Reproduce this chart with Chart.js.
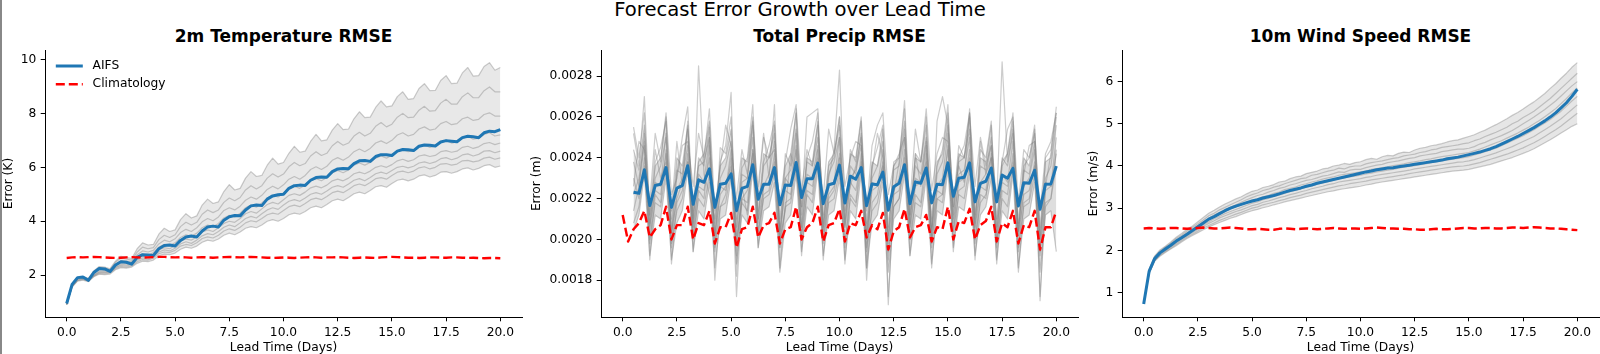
<!DOCTYPE html>
<html>
<head>
<meta charset="utf-8">
<script src="https://cdn.jsdelivr.net/npm/chart.js@4.4.0/dist/chart.umd.min.js"></script>
<style>
  html, body { margin: 0; padding: 0; background: #fff; }
  #frame { position: relative; width: 1600px; height: 354px; overflow: hidden; background: #fff; }
  #edge { position: absolute; left: 0; top: 0; width: 2px; height: 354px; background: #888; }
  .suptitle { position: absolute; left: 0; top: 0; width: 1600px; text-align: center;
              font: 19.6px/19.6px "DejaVu Sans", sans-serif; color: #000; }
  .ptitle { position: absolute; top: 28px; width: 477px; text-align: center;
            font: bold 17px/17px "DejaVu Sans", sans-serif; color: #000; }
  canvas { position: absolute; top: 0; }
</style>
</head>
<body>
<div id="frame">
  <div id="edge"></div>
  <div class="suptitle">Forecast Error Growth over Lead Time</div>
  <div class="ptitle" style="left:45px">2m Temperature RMSE</div>
  <div class="ptitle" style="left:601px">Total Precip RMSE</div>
  <div class="ptitle" style="left:1122px">10m Wind Speed RMSE</div>
  <canvas id="t2mChart" width="532" height="360" style="left:0px"></canvas>
  <canvas id="precipChart" width="563" height="360" style="left:525px"></canvas>
  <canvas id="windChart" width="517" height="360" style="left:1083px"></canvas>
</div>
<script>
// --- data: lead time axis (6-hourly steps, days) ---
const LEAD_DAYS = [0,0.25,0.5,0.75,1,1.25,1.5,1.75,2,2.25,2.5,2.75,3,3.25,3.5,3.75,4,4.25,4.5,4.75,
  5,5.25,5.5,5.75,6,6.25,6.5,6.75,7,7.25,7.5,7.75,8,8.25,8.5,8.75,9,9.25,9.5,9.75,
  10,10.25,10.5,10.75,11,11.25,11.5,11.75,12,12.25,12.5,12.75,13,13.25,13.5,13.75,14,14.25,14.5,14.75,
  15,15.25,15.5,15.75,16,16.25,16.5,16.75,17,17.25,17.5,17.75,18,18.25,18.5,18.75,19,19.25,19.5,19.75,20];

const X_TICKS = [0, 2.5, 5, 7.5, 10, 12.5, 15, 17.5, 20];
const T2M_TICKS = [2, 4, 6, 8, 10];
const PRECIP_TICKS = [0.0018, 0.0020, 0.0022, 0.0024, 0.0026, 0.0028];
const WIND_TICKS = [1, 2, 3, 4, 5, 6];

// --- 2m temperature (K) ---
const T2M_AIFS = [
  0.95,1.66,1.91,1.93, 1.81,2.10,2.25,2.23, 2.14,2.38,2.50,2.48, 2.41,2.66,2.76,2.75,
  2.73,2.98,3.10,3.12, 3.08,3.29,3.42,3.45, 3.42,3.64,3.79,3.82, 3.79,4.04,4.17,4.21,
  4.20,4.42,4.57,4.60, 4.58,4.82,4.94,4.98, 5.00,5.22,5.32,5.34, 5.33,5.52,5.62,5.64,
  5.63,5.84,5.94,5.96, 5.95,6.14,6.24,6.25, 6.22,6.40,6.47,6.47, 6.44,6.60,6.66,6.65,
  6.62,6.78,6.83,6.82, 6.79,6.94,6.99,6.97, 6.95,7.10,7.15,7.13, 7.10,7.28,7.34,7.32, 7.40];
const T2M_CLIM = [
  2.64,2.66,2.67,2.66, 2.67,2.68,2.67,2.66, 2.65,2.64,2.65,2.66, 2.67,2.66,2.65,2.66,
  2.67,2.68,2.68,2.67, 2.66,2.67,2.66,2.65, 2.66,2.67,2.66,2.65, 2.66,2.67,2.68,2.67,
  2.66,2.67,2.68,2.67, 2.66,2.65,2.64,2.65, 2.66,2.65,2.64,2.65, 2.66,2.67,2.66,2.65,
  2.66,2.66,2.67,2.66, 2.65,2.64,2.65,2.66, 2.65,2.64,2.66,2.67, 2.68,2.67,2.66,2.65,
  2.65,2.64,2.65,2.66, 2.66,2.65,2.65,2.66, 2.66,2.65,2.64,2.65, 2.64,2.63,2.64,2.64, 2.63];
// ensemble members, ordered from the highest to the lowest
const T2M_MEMBERS = [
  [0.92,1.62,1.90,1.95, 1.88,2.16,2.32,2.30, 2.24,2.52,2.70,2.66, 2.62,2.98,3.20,3.12,
   3.14,3.52,3.74,3.62, 3.68,4.06,4.28,4.12, 4.20,4.60,4.82,4.66, 4.72,5.10,5.36,5.16,
   5.22,5.60,5.84,5.66, 5.70,6.08,6.34,6.12, 6.18,6.52,6.78,6.56, 6.60,6.96,7.22,6.98,
   7.02,7.38,7.62,7.40, 7.42,7.80,8.06,7.84, 7.86,8.22,8.46,8.24, 8.28,8.62,8.80,8.52,
   8.55,8.92,9.10,8.84, 8.85,9.22,9.40,9.10, 9.12,9.50,9.70,9.38, 9.40,9.74,9.88,9.60, 9.70],
  [0.92,1.64,1.90,1.94, 1.86,2.12,2.28,2.26, 2.20,2.48,2.64,2.60, 2.56,2.86,3.04,2.98,
   3.02,3.32,3.48,3.40, 3.50,3.80,3.96,3.86, 3.96,4.26,4.42,4.32, 4.42,4.70,4.86,4.76,
   4.88,5.16,5.32,5.20, 5.32,5.60,5.76,5.64, 5.75,6.02,6.18,6.06, 6.14,6.42,6.58,6.44,
   6.52,6.80,6.96,6.82, 6.90,7.16,7.30,7.16, 7.26,7.52,7.66,7.50, 7.60,7.86,8.00,7.84,
   7.86,8.12,8.26,8.08, 8.10,8.38,8.52,8.34, 8.34,8.62,8.76,8.58, 8.58,8.84,8.98,8.80, 8.80],
  [0.92,1.62,1.88,1.92, 1.84,2.08,2.22,2.20, 2.16,2.40,2.54,2.52, 2.50,2.76,2.90,2.86,
   2.92,3.16,3.30,3.24, 3.35,3.58,3.70,3.62, 3.76,3.98,4.10,4.02, 4.16,4.40,4.50,4.42,
   4.56,4.78,4.90,4.82, 4.96,5.18,5.30,5.20, 5.35,5.56,5.66,5.56, 5.70,5.92,6.02,5.92,
   6.04,6.26,6.36,6.26, 6.38,6.58,6.68,6.58, 6.70,6.90,6.98,6.88, 7.00,7.20,7.28,7.16,
   7.22,7.42,7.50,7.38, 7.42,7.62,7.70,7.58, 7.62,7.80,7.86,7.74, 7.78,7.96,8.02,7.90, 7.90],
  [0.92,1.60,1.86,1.90, 1.82,2.02,2.16,2.16, 2.14,2.34,2.46,2.44, 2.46,2.66,2.78,2.74,
   2.84,3.04,3.14,3.10, 3.20,3.40,3.50,3.44, 3.56,3.76,3.86,3.80, 3.92,4.12,4.22,4.16,
   4.30,4.50,4.60,4.52, 4.68,4.86,4.96,4.90, 5.05,5.22,5.30,5.22, 5.34,5.50,5.58,5.50,
   5.62,5.80,5.88,5.80, 5.90,6.08,6.16,6.08, 6.18,6.34,6.42,6.34, 6.45,6.60,6.66,6.58,
   6.62,6.78,6.84,6.74, 6.78,6.94,7.00,6.90, 6.94,7.08,7.14,7.04, 7.08,7.22,7.28,7.16, 7.20],
  [0.92,1.60,1.84,1.88, 1.80,2.00,2.12,2.12, 2.12,2.30,2.40,2.38, 2.42,2.60,2.70,2.66,
   2.76,2.94,3.02,2.98, 3.10,3.26,3.34,3.30, 3.42,3.60,3.68,3.62, 3.76,3.92,4.00,3.96,
   4.10,4.28,4.36,4.30, 4.46,4.62,4.70,4.64, 4.80,4.96,5.02,4.96, 5.08,5.24,5.30,5.24,
   5.34,5.50,5.56,5.50, 5.60,5.76,5.82,5.76, 5.86,6.00,6.06,6.00, 6.10,6.24,6.30,6.22,
   6.28,6.42,6.46,6.40, 6.44,6.58,6.62,6.56, 6.60,6.74,6.78,6.70, 6.76,6.88,6.92,6.84, 6.90],
  [0.92,1.58,1.82,1.86, 1.79,1.98,2.10,2.10, 2.10,2.28,2.36,2.34, 2.38,2.56,2.64,2.60,
   2.70,2.86,2.94,2.90, 3.00,3.16,3.24,3.18, 3.30,3.46,3.54,3.50, 3.62,3.78,3.86,3.80,
   3.94,4.10,4.18,4.12, 4.28,4.42,4.50,4.44, 4.60,4.74,4.80,4.74, 4.86,5.00,5.06,5.00,
   5.12,5.26,5.32,5.26, 5.38,5.52,5.58,5.50, 5.62,5.76,5.82,5.76, 5.88,6.00,6.04,5.98,
   6.04,6.16,6.20,6.14, 6.20,6.32,6.36,6.28, 6.34,6.46,6.50,6.42, 6.48,6.60,6.62,6.54, 6.60],
  [0.92,1.58,1.80,1.84, 1.78,1.96,2.06,2.06, 2.08,2.24,2.32,2.30, 2.34,2.50,2.58,2.56,
   2.64,2.80,2.86,2.84, 2.92,3.08,3.14,3.10, 3.20,3.36,3.42,3.38, 3.48,3.64,3.72,3.66,
   3.78,3.94,4.02,3.98, 4.10,4.24,4.30,4.26, 4.40,4.54,4.60,4.54, 4.66,4.80,4.86,4.80,
   4.92,5.06,5.12,5.06, 5.18,5.32,5.38,5.32, 5.44,5.58,5.62,5.56, 5.70,5.82,5.86,5.80,
   5.86,5.98,6.02,5.94, 6.00,6.12,6.14,6.08, 6.12,6.24,6.26,6.20, 6.24,6.34,6.38,6.30, 6.35],
  [0.92,1.56,1.78,1.82, 1.76,1.94,2.04,2.02, 2.04,2.20,2.28,2.26, 2.30,2.44,2.52,2.50,
   2.56,2.72,2.78,2.76, 2.82,2.96,3.04,3.00, 3.08,3.22,3.30,3.26, 3.34,3.48,3.56,3.50,
   3.60,3.74,3.80,3.76, 3.86,4.00,4.06,4.00, 4.10,4.24,4.30,4.26, 4.36,4.50,4.56,4.50,
   4.62,4.76,4.82,4.76, 4.88,5.02,5.08,5.02, 5.14,5.28,5.32,5.26, 5.40,5.52,5.56,5.50,
   5.56,5.68,5.72,5.64, 5.70,5.82,5.84,5.78, 5.84,5.94,5.98,5.90, 5.96,6.06,6.10,6.00, 6.05]
];

// --- total precipitation (m), forecast lines start at day 0.5 ---
const PRECIP_AIFS = [
  null,null,0.002231,0.002226, 0.002341,0.002166,0.002264,0.002270, 0.002352,0.002157,0.002251,0.002264,
  0.002361,0.002172,0.002292,0.002280, 0.002346,0.002157,0.002270,0.002275, 0.002321,0.002141,0.002250,0.002260,
  0.002366,0.002197,0.002270,0.002270, 0.002352,0.002170,0.002267,0.002264, 0.002377,0.002205,0.002297,0.002297,
  0.002374,0.002175,0.002268,0.002275, 0.002364,0.002178,0.002310,0.002295, 0.002352,0.002165,0.002272,0.002268,
  0.002330,0.002143,0.002258,0.002275, 0.002366,0.002175,0.002282,0.002275, 0.002350,0.002179,0.002270,0.002268,
  0.002375,0.002211,0.002300,0.002305, 0.002375,0.002184,0.002275,0.002285, 0.002350,0.002184,0.002315,0.002300,
  0.002348,0.002164,0.002278,0.002275, 0.002339,0.002148,0.002270,0.002272, 0.002359];
const PRECIP_CLIM = [
  0.00212,0.00199,0.00205,0.00208, 0.00214,0.00201,0.00205,0.00207, 0.00216,0.00200,0.00207,0.00207,
  0.00216,0.00200,0.00208,0.00207, 0.00214,0.00198,0.00206,0.00206, 0.00213,0.00196,0.00205,0.00206,
  0.00216,0.00201,0.00207,0.00208, 0.00213,0.00198,0.00205,0.00206, 0.00216,0.00200,0.00206,0.00208,
  0.00216,0.00199,0.00207,0.00208, 0.00215,0.00199,0.00208,0.00207, 0.00214,0.00201,0.00207,0.00205,
  0.00213,0.00195,0.00204,0.00206, 0.00215,0.00201,0.00206,0.00207, 0.00212,0.00199,0.00206,0.00205,
  0.00216,0.00200,0.00209,0.00208, 0.00215,0.00200,0.00207,0.00209, 0.00216,0.00199,0.00208,0.00206,
  0.00214,0.00198,0.00207,0.00206, 0.00214,0.00195,0.00206,0.00206, 0.00214];
// first member is the upper edge of the core band, second the lower edge
const PRECIP_MEMBERS = [
  [null,null,0.00244,0.00234, 0.00256,0.00212,0.00236,0.00240, 0.00260,0.00210,0.00240,0.00236,
   0.00256,0.00214,0.00238,0.00242, 0.00258,0.00208,0.00236,0.00240, 0.00254,0.00210,0.00240,0.00238,
   0.00260,0.00214,0.00242,0.00240, 0.00256,0.00210,0.00236,0.00242, 0.00262,0.00216,0.00240,0.00238,
   0.00258,0.00212,0.00238,0.00242, 0.00256,0.00210,0.00242,0.00240, 0.00260,0.00208,0.00238,0.00236,
   0.00254,0.00206,0.00236,0.00240, 0.00258,0.00212,0.00240,0.00238, 0.00256,0.00210,0.00238,0.00242,
   0.00262,0.00216,0.00242,0.00240, 0.00260,0.00212,0.00240,0.00238, 0.00256,0.00210,0.00236,0.00242,
   0.00258,0.00208,0.00240,0.00236, 0.00254,0.00206,0.00238,0.00240, 0.00260],
  [null,null,0.00204,0.00212, 0.00232,0.00192,0.00212,0.00210, 0.00230,0.00190,0.00208,0.00214,
   0.00234,0.00194,0.00214,0.00210, 0.00228,0.00186,0.00210,0.00212, 0.00230,0.00188,0.00212,0.00208,
   0.00234,0.00196,0.00214,0.00216, 0.00228,0.00184,0.00208,0.00212, 0.00232,0.00194,0.00216,0.00212,
   0.00234,0.00192,0.00212,0.00214, 0.00230,0.00190,0.00214,0.00210, 0.00232,0.00186,0.00208,0.00212,
   0.00228,0.00184,0.00210,0.00214, 0.00232,0.00192,0.00212,0.00210, 0.00230,0.00188,0.00214,0.00212,
   0.00234,0.00196,0.00216,0.00214, 0.00232,0.00192,0.00212,0.00216, 0.00230,0.00190,0.00214,0.00210,
   0.00232,0.00186,0.00210,0.00212, 0.00228,0.00184,0.00212,0.00214, 0.00194],
  [null,null,0.00255,0.00240, 0.00262,0.00205,0.00238,0.00245, 0.00258,0.00200,0.00232,0.00250,
   0.00265,0.00208,0.00240,0.00236, 0.00255,0.00198,0.00245,0.00242, 0.00260,0.00202,0.00235,0.00240,
   0.00266,0.00210,0.00238,0.00246, 0.00258,0.00200,0.00242,0.00236, 0.00264,0.00206,0.00240,0.00248,
   0.00262,0.00204,0.00236,0.00240, 0.00260,0.00207,0.00244,0.00238, 0.00258,0.00200,0.00236,0.00245,
   0.00256,0.00198,0.00238,0.00240, 0.00264,0.00206,0.00242,0.00238, 0.00260,0.00202,0.00236,0.00244,
   0.00266,0.00210,0.00240,0.00246, 0.00262,0.00204,0.00244,0.00240, 0.00258,0.00200,0.00238,0.00242,
   0.00262,0.00202,0.00236,0.00240, 0.00256,0.00198,0.00240,0.00244, 0.00262],
  [null,null,0.00238,0.00226, 0.00252,0.00208,0.00230,0.00236, 0.00250,0.00204,0.00234,0.00232,
   0.00254,0.00210,0.00236,0.00238, 0.00250,0.00202,0.00230,0.00236, 0.00248,0.00206,0.00232,0.00230,
   0.00256,0.00210,0.00236,0.00240, 0.00252,0.00204,0.00230,0.00234, 0.00254,0.00212,0.00238,0.00236,
   0.00256,0.00208,0.00232,0.00238, 0.00250,0.00206,0.00236,0.00232, 0.00252,0.00204,0.00230,0.00236,
   0.00248,0.00202,0.00234,0.00236, 0.00254,0.00208,0.00236,0.00232, 0.00250,0.00206,0.00232,0.00238,
   0.00256,0.00212,0.00238,0.00240, 0.00254,0.00208,0.00236,0.00234, 0.00250,0.00206,0.00240,0.00236,
   0.00252,0.00204,0.00234,0.00232, 0.00248,0.00202,0.00230,0.00236, 0.00256],
  [null,null,0.00222,0.00230, 0.00248,0.00198,0.00228,0.00226, 0.00252,0.00196,0.00224,0.00230,
   0.00246,0.00200,0.00232,0.00228, 0.00250,0.00194,0.00226,0.00224, 0.00244,0.00192,0.00228,0.00230,
   0.00250,0.00202,0.00226,0.00232, 0.00248,0.00196,0.00230,0.00226, 0.00252,0.00200,0.00232,0.00230,
   0.00246,0.00198,0.00226,0.00228, 0.00250,0.00196,0.00230,0.00234, 0.00246,0.00194,0.00228,0.00226,
   0.00244,0.00190,0.00224,0.00230, 0.00250,0.00200,0.00230,0.00228, 0.00248,0.00196,0.00226,0.00230,
   0.00252,0.00202,0.00232,0.00234, 0.00250,0.00198,0.00228,0.00232, 0.00246,0.00196,0.00232,0.00228,
   0.00248,0.00194,0.00226,0.00230, 0.00244,0.00192,0.00228,0.00226, 0.00250],
  [null,null,0.00230,0.00220, 0.00240,0.00206,0.00224,0.00222, 0.00242,0.00204,0.00220,0.00228,
   0.00238,0.00206,0.00226,0.00224, 0.00240,0.00202,0.00222,0.00226, 0.00236,0.00200,0.00220,0.00224,
   0.00242,0.00208,0.00226,0.00228, 0.00238,0.00204,0.00224,0.00222, 0.00244,0.00206,0.00228,0.00226,
   0.00240,0.00204,0.00222,0.00226, 0.00242,0.00206,0.00228,0.00224, 0.00238,0.00202,0.00224,0.00226,
   0.00236,0.00200,0.00222,0.00224, 0.00240,0.00206,0.00226,0.00228, 0.00238,0.00204,0.00224,0.00222,
   0.00244,0.00208,0.00228,0.00230, 0.00240,0.00206,0.00226,0.00224, 0.00242,0.00204,0.00228,0.00226,
   0.00238,0.00202,0.00222,0.00224, 0.00236,0.00200,0.00224,0.00226, 0.00242],
  [null,null,0.00214,0.00226, 0.00246,0.00190,0.00222,0.00218, 0.00244,0.00188,0.00218,0.00224,
   0.00242,0.00194,0.00224,0.00220, 0.00246,0.00180,0.00216,0.00222, 0.00240,0.00172,0.00220,0.00218,
   0.00244,0.00196,0.00222,0.00224, 0.00242,0.00186,0.00218,0.00220, 0.00246,0.00192,0.00224,0.00222,
   0.00244,0.00190,0.00220,0.00224, 0.00240,0.00188,0.00222,0.00218, 0.00242,0.00180,0.00218,0.00222,
   0.00238,0.00172,0.00216,0.00220, 0.00244,0.00192,0.00222,0.00218, 0.00242,0.00186,0.00220,0.00222,
   0.00246,0.00194,0.00224,0.00226, 0.00244,0.00190,0.00222,0.00220, 0.00240,0.00188,0.00224,0.00222,
   0.00242,0.00184,0.00218,0.00220, 0.00238,0.00172,0.00216,0.00220, 0.00244],
  [null,null,0.00208,0.00216, 0.00236,0.00200,0.00218,0.00216, 0.00234,0.00198,0.00214,0.00220,
   0.00238,0.00202,0.00220,0.00216, 0.00232,0.00196,0.00216,0.00218, 0.00234,0.00198,0.00218,0.00214,
   0.00238,0.00204,0.00220,0.00222, 0.00232,0.00196,0.00216,0.00218, 0.00236,0.00202,0.00222,0.00218,
   0.00238,0.00200,0.00218,0.00220, 0.00234,0.00198,0.00220,0.00216, 0.00236,0.00196,0.00214,0.00218,
   0.00232,0.00194,0.00216,0.00220, 0.00236,0.00200,0.00218,0.00216, 0.00234,0.00198,0.00220,0.00218,
   0.00238,0.00204,0.00222,0.00220, 0.00236,0.00200,0.00218,0.00222, 0.00234,0.00198,0.00220,0.00216,
   0.00236,0.00196,0.00216,0.00218, 0.00232,0.00194,0.00218,0.00220, 0.00236],
  [null,null,0.00252,0.00236, 0.00270,0.00212,0.00244,0.00230, 0.00238,0.00214,0.00248,0.00226,
   0.00258,0.00206,0.00285,0.00232, 0.00222,0.00210,0.00238,0.00246, 0.00272,0.00182,0.00226,0.00212,
   0.00244,0.00226,0.00252,0.00230, 0.00266,0.00200,0.00214,0.00242, 0.00232,0.00216,0.00260,0.00262,
   0.00264,0.00206,0.00230,0.00244, 0.00283,0.00214,0.00226,0.00236, 0.00250,0.00186,0.00234,0.00252,
   0.00240,0.00168,0.00222,0.00238, 0.00268,0.00212,0.00242,0.00226, 0.00246,0.00200,0.00258,0.00270,
   0.00256,0.00220,0.00236,0.00228, 0.00264,0.00210,0.00248,0.00232, 0.00240,0.00218,0.00287,0.00238,
   0.00254,0.00204,0.00232,0.00246, 0.00248,0.00170,0.00226,0.00242, 0.00265],
  [null,null,0.00226,0.00248, 0.00244,0.00218,0.00252,0.00238, 0.00262,0.00222,0.00230,0.00246,
   0.00248,0.00226,0.00252,0.00240, 0.00264,0.00214,0.00236,0.00256, 0.00246,0.00220,0.00244,0.00232,
   0.00258,0.00222,0.00250,0.00240, 0.00244,0.00218,0.00238,0.00254, 0.00266,0.00224,0.00244,0.00236,
   0.00250,0.00220,0.00254,0.00242, 0.00260,0.00226,0.00240,0.00248, 0.00246,0.00214,0.00246,0.00256,
   0.00262,0.00222,0.00236,0.00242, 0.00250,0.00218,0.00254,0.00238, 0.00264,0.00224,0.00242,0.00250,
   0.00248,0.00216,0.00246,0.00240, 0.00262,0.00226,0.00250,0.00236, 0.00246,0.00220,0.00238,0.00254,
   0.00260,0.00218,0.00244,0.00240, 0.00252,0.00214,0.00242,0.00248, 0.00262]
];

// --- 10m wind speed (m/s) ---
const WIND_AIFS = [
  0.73,1.50,1.80,1.94, 2.03,2.12,2.22,2.30, 2.38,2.47,2.56,2.65, 2.74,2.80,2.87,2.94,
  3.00,3.05,3.09,3.13, 3.17,3.20,3.24,3.27, 3.30,3.34,3.38,3.42, 3.45,3.48,3.52,3.55,
  3.59,3.62,3.65,3.68, 3.71,3.74,3.77,3.80, 3.83,3.86,3.88,3.91, 3.93,3.95,3.96,3.98,
  4.00,4.02,4.04,4.06, 4.08,4.10,4.12,4.14, 4.17,4.19,4.21,4.24, 4.27,4.30,4.33,4.37,
  4.41,4.46,4.52,4.58, 4.64,4.70,4.77,4.84, 4.91,4.99,5.07,5.16, 5.26,5.38,5.50,5.65, 5.82];
const WIND_CLIM = [
  2.52,2.53,2.52,2.51, 2.52,2.53,2.53,2.52, 2.51,2.52,2.53,2.54, 2.53,2.52,2.52,2.53,
  2.54,2.53,2.52,2.50, 2.50,2.51,2.50,2.49, 2.49,2.51,2.52,2.51, 2.50,2.51,2.52,2.51,
  2.50,2.51,2.52,2.53, 2.52,2.51,2.52,2.52, 2.51,2.52,2.53,2.54, 2.53,2.52,2.52,2.51,
  2.51,2.50,2.50,2.49, 2.49,2.50,2.51,2.50, 2.50,2.51,2.52,2.53, 2.53,2.52,2.52,2.53,
  2.53,2.52,2.52,2.53, 2.54,2.54,2.53,2.54, 2.55,2.54,2.53,2.52, 2.52,2.51,2.50,2.49, 2.48];
// first member is the upper edge of the spread, second the lower edge
const WIND_MEMBERS = [
  [0.73,1.55,1.86,2.01, 2.10,2.20,2.31,2.40, 2.50,2.58,2.68,2.78, 2.88,2.95,3.03,3.10,
   3.16,3.22,3.27,3.34, 3.40,3.43,3.49,3.52, 3.56,3.62,3.64,3.70, 3.74,3.76,3.82,3.85,
   3.88,3.93,3.95,4.00, 4.02,4.06,4.04,4.08, 4.10,4.15,4.18,4.16, 4.22,4.25,4.24,4.30,
   4.33,4.32,4.38,4.42, 4.44,4.48,4.50,4.53, 4.57,4.60,4.62,4.66, 4.70,4.74,4.80,4.85,
   4.92,4.98,5.05,5.12, 5.20,5.27,5.35,5.44, 5.52,5.62,5.72,5.84, 5.95,6.08,6.20,6.34, 6.45],
  [0.73,1.45,1.74,1.86, 1.95,2.03,2.11,2.20, 2.28,2.35,2.42,2.49, 2.55,2.61,2.66,2.71,
   2.76,2.80,2.85,2.90, 2.94,2.97,3.01,3.04, 3.08,3.11,3.15,3.18, 3.21,3.24,3.27,3.30,
   3.33,3.36,3.39,3.41, 3.44,3.46,3.48,3.50, 3.52,3.55,3.57,3.60, 3.62,3.64,3.66,3.68,
   3.70,3.72,3.74,3.76, 3.78,3.80,3.82,3.84, 3.86,3.88,3.89,3.90, 3.92,3.95,3.98,4.01,
   4.04,4.08,4.12,4.16, 4.20,4.25,4.30,4.35, 4.41,4.48,4.55,4.62, 4.70,4.78,4.86,4.94, 5.00],
  [0.73,1.53,1.84,1.98, 2.08,2.17,2.28,2.36, 2.46,2.55,2.63,2.72, 2.82,2.88,2.96,3.02,
   3.08,3.14,3.20,3.27, 3.32,3.36,3.42,3.45, 3.50,3.53,3.58,3.62, 3.66,3.70,3.72,3.78,
   3.80,3.84,3.88,3.90, 3.95,3.93,3.98,4.00, 4.00,4.05,4.08,4.10, 4.12,4.15,4.18,4.20,
   4.24,4.26,4.28,4.32, 4.34,4.38,4.40,4.44, 4.46,4.48,4.50,4.53, 4.55,4.60,4.64,4.70,
   4.75,4.80,4.86,4.92, 5.00,5.06,5.15,5.22, 5.30,5.40,5.50,5.60, 5.72,5.84,5.96,6.08, 6.20],
  [0.73,1.52,1.82,1.96, 2.06,2.14,2.24,2.33, 2.42,2.51,2.59,2.68, 2.76,2.84,2.90,2.97,
   3.02,3.08,3.14,3.20, 3.25,3.30,3.33,3.38, 3.42,3.47,3.50,3.55, 3.58,3.62,3.66,3.68,
   3.72,3.76,3.78,3.82, 3.86,3.85,3.90,3.92, 3.92,3.96,3.99,4.02, 4.04,4.08,4.10,4.12,
   4.15,4.18,4.20,4.24, 4.26,4.28,4.30,4.34, 4.36,4.38,4.40,4.40, 4.42,4.46,4.52,4.56,
   4.62,4.67,4.72,4.78, 4.84,4.92,5.00,5.08, 5.16,5.25,5.34,5.44, 5.54,5.66,5.78,5.90, 6.00],
  [0.73,1.50,1.80,1.94, 2.03,2.12,2.22,2.31, 2.40,2.48,2.56,2.64, 2.72,2.79,2.86,2.92,
   2.98,3.03,3.08,3.13, 3.18,3.22,3.27,3.30, 3.35,3.38,3.44,3.47, 3.50,3.55,3.58,3.62,
   3.65,3.69,3.72,3.74, 3.78,3.80,3.82,3.84, 3.86,3.88,3.92,3.94, 3.96,3.98,4.01,4.03,
   4.05,4.08,4.10,4.12, 4.15,4.17,4.20,4.22, 4.24,4.26,4.28,4.30, 4.32,4.36,4.40,4.45,
   4.50,4.55,4.60,4.66, 4.72,4.78,4.85,4.92, 5.00,5.08,5.17,5.26, 5.36,5.48,5.60,5.73, 5.85],
  [0.73,1.49,1.78,1.92, 2.01,2.10,2.19,2.28, 2.37,2.45,2.53,2.61, 2.68,2.75,2.81,2.87,
   2.92,2.97,3.02,3.07, 3.12,3.15,3.20,3.23, 3.28,3.31,3.35,3.39, 3.42,3.46,3.50,3.53,
   3.57,3.60,3.63,3.66, 3.70,3.72,3.74,3.76, 3.78,3.81,3.83,3.86, 3.88,3.90,3.92,3.95,
   3.97,3.99,4.01,4.03, 4.05,4.08,4.10,4.12, 4.14,4.16,4.18,4.20, 4.22,4.26,4.30,4.34,
   4.38,4.42,4.48,4.54, 4.60,4.66,4.72,4.79, 4.86,4.94,5.02,5.10, 5.20,5.30,5.42,5.54, 5.65],
  [0.73,1.47,1.76,1.90, 1.99,2.08,2.17,2.26, 2.34,2.42,2.50,2.57, 2.64,2.70,2.77,2.82,
   2.87,2.92,2.96,3.01, 3.06,3.09,3.14,3.17, 3.21,3.25,3.28,3.32, 3.35,3.39,3.42,3.46,
   3.49,3.52,3.56,3.58, 3.62,3.64,3.66,3.68, 3.70,3.73,3.75,3.78, 3.80,3.82,3.84,3.86,
   3.88,3.90,3.93,3.95, 3.97,3.99,4.01,4.03, 4.05,4.07,4.09,4.10, 4.12,4.15,4.19,4.23,
   4.27,4.31,4.36,4.41, 4.46,4.52,4.58,4.64, 4.70,4.78,4.86,4.94, 5.03,5.12,5.23,5.34, 5.45],
  [0.73,1.46,1.75,1.88, 1.97,2.05,2.14,2.23, 2.31,2.38,2.46,2.53, 2.59,2.65,2.71,2.76,
   2.81,2.86,2.90,2.95, 3.00,3.03,3.08,3.11, 3.14,3.18,3.21,3.25, 3.28,3.31,3.35,3.38,
   3.41,3.44,3.47,3.50, 3.53,3.55,3.58,3.60, 3.62,3.64,3.67,3.69, 3.71,3.73,3.75,3.77,
   3.79,3.82,3.84,3.86, 3.88,3.90,3.92,3.94, 3.96,3.98,3.99,4.00, 4.02,4.05,4.08,4.12,
   4.16,4.20,4.24,4.28, 4.33,4.38,4.43,4.49, 4.55,4.62,4.70,4.78, 4.86,4.95,5.05,5.15, 5.25]
];

// --- chart setup ---
Chart.defaults.font.family = '"DejaVu Sans", sans-serif';
Chart.defaults.font.size = 12.25;
Chart.defaults.color = '#000';
Chart.defaults.animation = false;

const MEMBER_COLOR = 'rgba(128,128,128,0.40)';

// legend drawn inside the plot area, upper left, without a frame
const insideLegend = {
  id: 'insideLegend',
  afterDatasetsDraw(chart, args, opts) {
    if (!opts.show) return;
    const { ctx, chartArea } = chart;
    ctx.save();
    [0, 1].forEach((idx, row) => {
      const ds = chart.data.datasets[idx];
      const y = chartArea.top + 16 + row * 18.2;
      const x0 = chartArea.left + 10.8;
      ctx.strokeStyle = ds.borderColor;
      ctx.lineWidth = ds.borderWidth;
      ctx.setLineDash(ds.borderDash || []);
      ctx.beginPath();
      ctx.moveTo(x0, y);
      ctx.lineTo(x0 + 27, y);
      ctx.stroke();
      ctx.setLineDash([]);
      ctx.fillStyle = '#000';
      ctx.font = '12.25px "DejaVu Sans", sans-serif';
      ctx.textBaseline = 'middle';
      ctx.fillText(ds.label, x0 + 27 + 9.8, y);
    });
    ctx.restore();
  }
};

function toPoints(values) {
  return LEAD_DAYS.map((d, i) => ({ x: d, y: values[i] }));
}

function axisStyle() {
  return {
    grid: { display: true, drawOnChartArea: false, drawTicks: true, tickLength: 4.3, color: '#000', lineWidth: 1 },
    border: { display: true, color: '#000', width: 1 }
  };
}

function makePanel(canvasId, cfg) {
  const datasets = [
    { label: 'AIFS', data: toPoints(cfg.mean), borderColor: '#1f77b4', borderWidth: 3, order: 1 },
    { label: 'Climatology', data: toPoints(cfg.clim), borderColor: '#ff0000', borderWidth: 2.45,
      borderDash: [9, 4], order: 0 }
  ];
  const lastMember = 2 + cfg.members.length - 1;
  cfg.members.forEach((m, i) => {
    const ds = { label: 'member ' + (i + 1), data: toPoints(m),
      borderColor: MEMBER_COLOR, borderWidth: 1.2, order: 2 };
    // shade the spread between the outer members of the ensemble
    if (i === 0) {
      ds.fill = { target: cfg.bandTo ?? lastMember };
      ds.backgroundColor = 'rgba(128,128,128,' + cfg.bandAlpha + ')';
    }
    datasets.push(ds);
  });

  const ctx = document.getElementById(canvasId).getContext('2d');
  return new Chart(ctx, {
    type: 'line',
    data: { datasets: datasets },
    plugins: [insideLegend],
    options: {
      responsive: false,
      devicePixelRatio: 1,
      layout: { padding: { left: 0, right: cfg.padRight, top: 50, bottom: 0 } },
      elements: {
        point: { radius: 0, hoverRadius: 0 },
        line: { tension: 0, borderJoinStyle: 'round', fill: false }
      },
      scales: {
        x: {
          type: 'linear', min: -1, max: 21,
          afterBuildTicks: s => { s.ticks = X_TICKS.map(v => ({ value: v })); },
          afterFit: s => { s.height = 43; },
          ticks: { callback: v => v.toFixed(1), padding: 4.3, maxRotation: 0, autoSkip: false },
          title: { display: true, text: 'Lead Time (Days)', padding: { top: 0, bottom: 4.6 } },
          ...axisStyle()
        },
        y: {
          type: 'linear', min: cfg.yMin, max: cfg.yMax,
          afterBuildTicks: s => { s.ticks = cfg.yTicks.map(v => ({ value: v })); },
          afterFit: s => { s.width = cfg.yWidth; },
          ticks: { callback: v => v.toFixed(cfg.decimals), padding: 4.3, autoSkip: false },
          title: { display: true, text: cfg.yLabel, padding: { top: cfg.yTitlePad, bottom: 0 } },
          ...axisStyle()
        }
      },
      plugins: {
        tooltip: { enabled: false },
        legend: { display: false },
        insideLegend: { show: cfg.legend }
      }
    }
  });
}

makePanel('t2mChart', {
  mean: T2M_AIFS, clim: T2M_CLIM, members: T2M_MEMBERS, bandAlpha: 0.18,
  yMin: 0.45, yMax: 10.35, yTicks: T2M_TICKS, decimals: 0,
  yWidth: 45, yTitlePad: 1.6, yLabel: 'Error (K)', padRight: 10, legend: true
});
makePanel('precipChart', {
  mean: PRECIP_AIFS, clim: PRECIP_CLIM, members: PRECIP_MEMBERS, bandTo: 3, bandAlpha: 0.26,
  yMin: 0.00162, yMax: 0.002928, yTicks: PRECIP_TICKS, decimals: 4,
  yWidth: 76, yTitlePad: 4.4, yLabel: 'Error (m)', padRight: 10, legend: false
});
makePanel('windChart', {
  mean: WIND_AIFS, clim: WIND_CLIM, members: WIND_MEMBERS, bandTo: 3, bandAlpha: 0.2,
  yMin: 0.42, yMax: 6.75, yTicks: WIND_TICKS, decimals: 0,
  yWidth: 39, yTitlePad: 3.0, yLabel: 'Error (m/s)', padRight: 1, legend: false
});
</script>
</body>
</html>
